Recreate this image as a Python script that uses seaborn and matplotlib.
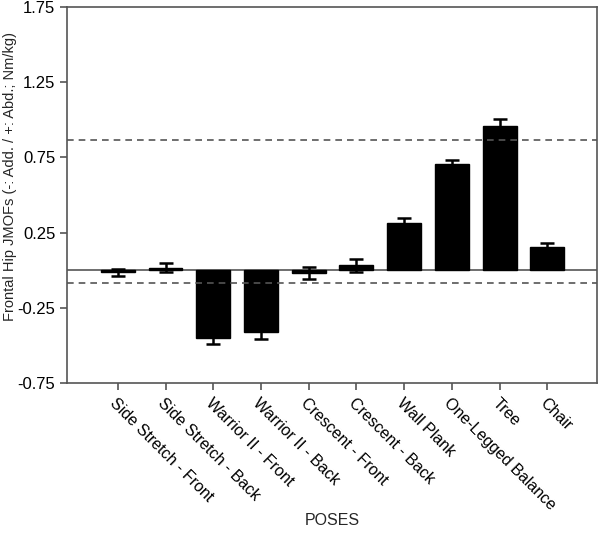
import matplotlib
matplotlib.use("Agg")
import matplotlib.pyplot as plt
import seaborn as sns
import pandas as pd

# Data
poses = [
    "Side Stretch - Front", "Side Stretch - Back", "Warrior II - Front",
    "Warrior II - Back", "Crescent - Front", "Crescent - Back",
    "Wall Plank", "One-Legged Balance", "Tree", "Chair",
]
means = [-0.013, 0.018, -0.449, -0.411, -0.018, 0.033, 0.315, 0.705, 0.96, 0.157]
errors = [0.025, 0.031, 0.040, 0.044, 0.040, 0.045, 0.035, 0.030, 0.048, 0.026]
threshold_hi = 0.863
threshold_lo = -0.083
y_ticks = [-0.75, -0.25, 0.25, 0.75, 1.25, 1.75]

df = pd.DataFrame({"pose": poses, "mean": means, "err": errors})

sns.set_style("ticks")
plt.rcParams["font.family"] = ["Liberation Sans", "DejaVu Sans"]

fig = plt.figure(figsize=(6.0, 5.33), dpi=100)
ax = fig.add_axes([0.112, 0.281, 0.883, 0.706])

sns.barplot(data=df, x="pose", y="mean", color="black", width=0.71,
            errorbar=None, ax=ax, saturation=1, edgecolor="black")
ax.errorbar(range(len(poses)), df["mean"], yerr=df["err"], fmt="none",
            ecolor="black", elinewidth=1.8, capsize=4.8, capthick=1.8)

ax.axhline(0, color="#555555", linewidth=1.2, zorder=0)
ax.axhline(threshold_hi, color="#555555", linewidth=1.2, linestyle=(0, (4, 3)))
ax.axhline(threshold_lo, color="#555555", linewidth=1.2, linestyle=(0, (4, 3)))

ax.set_ylim(-0.75, 1.75)
ax.set_xlim(-1.06, 10.04)
ax.set_yticks(y_ticks)
ax.set_yticklabels([f"{t:.2f}" for t in y_ticks], fontsize=12)
ax.set_xticks(range(len(poses)))
ax.set_xticklabels(poses, rotation=-45, ha="left", va="top",
                   rotation_mode="anchor", fontsize=11.5)

for s in ax.spines.values():
    s.set_color("#555555")
    s.set_linewidth(1.2)
ax.tick_params(axis="both", colors="#555555", length=5, width=1.2,
               labelcolor="black")

ax.set_ylabel("Frontal Hip JMOFs (-: Add. / +: Abd.; Nm/kg)", fontsize=10.5)
ax.yaxis.set_label_coords(-0.095, 0.55)
ax.set_xlabel("POSES", fontsize=11.5)
ax.xaxis.set_label_coords(0.5, -0.345)

fig.savefig("out.png", dpi=100)
